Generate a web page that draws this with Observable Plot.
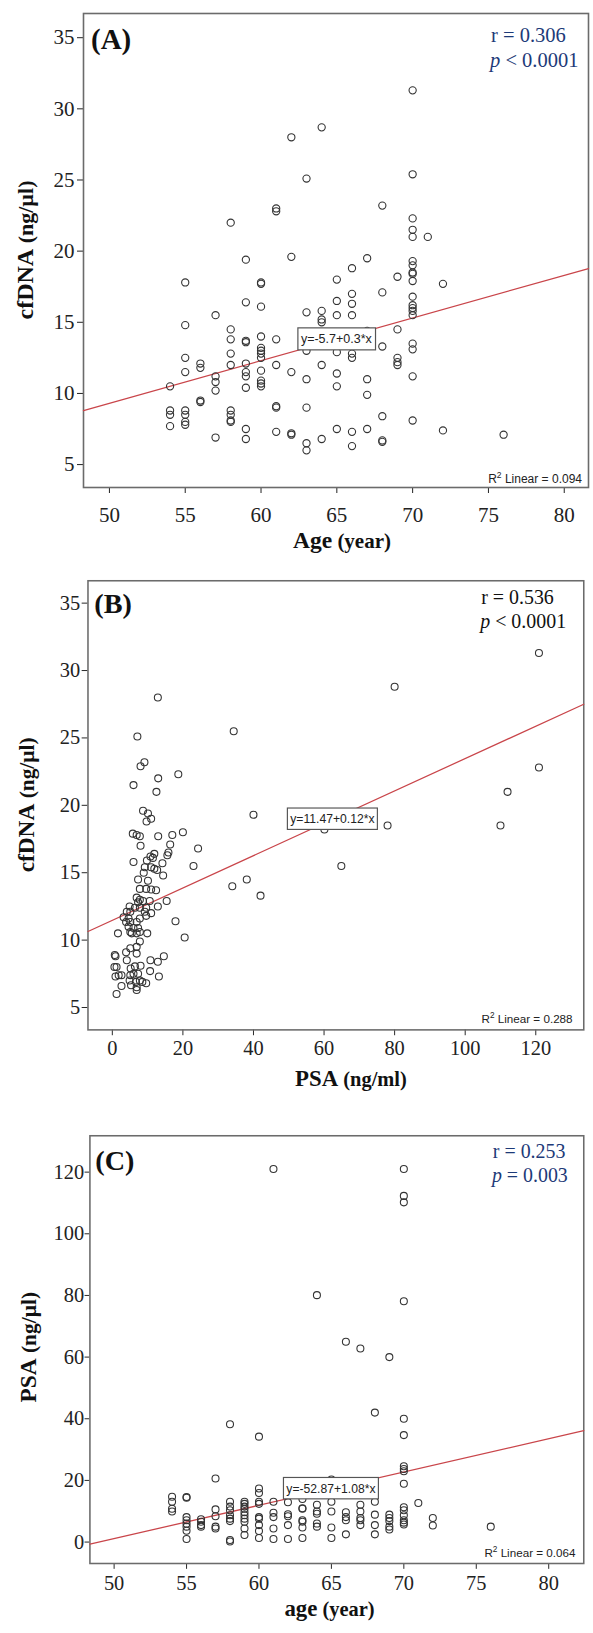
<!DOCTYPE html>
<html><head><meta charset="utf-8">
<script src="https://cdn.jsdelivr.net/npm/d3@7"></script>
<script src="https://cdn.jsdelivr.net/npm/@observablehq/plot@0.6"></script>
<style>
html,body{margin:0;padding:0;background:#fff;overflow:hidden;width:593px;height:1633px;}
#wrap{position:relative;width:593px;height:1633px;overflow:hidden;background:#fff;}
#wrap svg{position:absolute;left:0;display:block;}
</style></head><body><div id="wrap"></div>
<script>
// ---------- DATA ----------
// Panel A: cfDNA (ng/µl) vs Age (year)
const agesA = [54,55,56,57,58,59,60,61,62,63,64,65,66,67,68,69,70,71,72,76];
const cfdnaByAgeA = [
  [10.5,8.8,8.5,7.7],
  [17.8,14.8,12.5,11.5,8.8,8.5,8.0,7.8],
  [12.1,11.8,9.5,9.4],
  [15.5,11.2,10.8,10.2,6.9],
  [22.0,14.5,13.8,12.8,12.0,8.8,8.5,8.1,8.0],
  [19.4,16.4,13.7,13.6,12.1,11.5,11.2,10.4,7.5,6.8],
  [17.8,17.7,16.1,14.0,13.2,13.0,12.8,12.5,11.6,10.9,10.7,10.5],
  [23.0,22.8,13.8,12.0,9.1,9.0,7.3],
  [28.0,19.6,11.5,7.2,7.1],
  [25.1,15.7,13.0,11.0,9.0,6.5,6.0],
  [28.7,15.8,15.2,15.0,12.0,6.8],
  [18.0,16.5,15.5,12.9,11.4,10.5,7.5],
  [18.8,17.0,16.3,15.5,12.8,12.5,7.3,6.3],
  [19.5,14.4,11.0,9.9,7.5],
  [23.2,17.1,13.3,8.4,6.7,6.6],
  [18.2,14.5,12.5,12.2,12.0],
  [31.3,25.4,22.3,21.5,21.0,19.3,19.0,18.5,18.4,17.9,16.8,16.2,16.0,15.8,15.5,13.5,13.1,11.2,8.1],
  [21.0],
  [17.7,7.4],
  [7.1]
];
// Panel B: cfDNA (ng/µl) vs PSA (ng/ml)
const psaB = [12.9,34.4,7.1,8.0,9.1,13.0,18.7,6.0,12.5,8.7,10.1,11.0,9.7,40.0,5.8,6.9,7.8,13.0,17.0,20.0,8.0,16.4,24.3,15.9,15.6,11.9,10.8,11.5,6.0,9.8,
  120.9,80.0,120.9,112.0,60.1,78.0,110.0,64.9,34.0,38.1,42.0,23.0,17.9,20.5,
  14.2,9.2,11.0,11.9,12.7,8.9,14.4,7.3,10.1,7.8,9.6,11.0,12.4,6.9,7.8,8.7,7.3,10.6,15.4,12.9,4.9,6.4,7.8,9.6,4.1,5.1,9.2,11.0,3.2,4.6,
  7.8,9.6,3.9,5.1,6.9,4.6,6.0,7.3,5.1,7.8,1.6,5.5,6.9,9.9,7.8,6.9,5.1,3.9,0.7,0.9,6.9,4.1,10.8,12.9,14.6,0.6,1.2,5.2,6.4,8.0,
  10.7,0.9,1.8,2.6,5.1,6.0,7.3,13.2,4.9,6.7,7.8,8.5,9.6,2.6,5.3,6.9,6.9,1.2];
const cfdnaB = [28.0,25.5,25.1,22.9,23.2,22.0,22.3,21.5,21.0,19.6,19.4,19.0,18.8,19.3,17.9,17.8,17.7,17.7,17.8,18.0,17.0,17.1,16.8,16.5,16.3,16.4,16.2,16.1,15.8,15.9,
  31.3,28.8,22.8,21.0,18.2,18.5,18.5,15.5,14.0,14.5,13.3,15.5,11.4,10.2,
  15.7,15.4,15.4,15.3,15.2,15.0,14.8,14.5,14.4,13.8,13.8,13.75,13.7,13.15,13.0,12.9,12.8,12.9,12.9,12.5,12.5,12.4,12.4,12.4,12.1,12.1,12.1,12.0,11.7,11.6,
  11.6,11.8,11.35,11.35,11.35,11.0,10.9,10.9,10.6,10.6,10.5,10.5,10.5,10.5,9.9,9.5,9.4,9.1,8.9,8.8,9.0,8.5,8.5,8.4,8.8,8.0,8.0,7.9,8.05,8.1,
  7.7,7.3,7.4,7.4,7.4,7.5,7.5,7.3,7.0,6.9,7.0,6.9,6.8,6.6,6.65,6.5,6.3,6.0];
// Panel C: PSA vs age (year)
const agesC = [54,55,56,57,58,59,60,61,62,63,64,65,66,67,68,69,70,71,72,76];
const psaByAgeC = [
  [14.7,13.1,10.8,9.9],
  [14.6,14.4,8.1,7.1,6.0,5.0,3.7,1.0],
  [7.4,6.6,5.5,5.0],
  [20.6,10.6,8.4,5.0,4.4],
  [38.2,13.1,11.5,10.3,8.7,7.6,6.8,0.7,0.2],
  [13.1,12.4,11.5,10.8,9.7,8.7,7.6,6.6,4.4,2.3],
  [34.2,17.4,15.9,13.1,12.4,8.1,7.6,5.5,3.6,1.3],
  [121.0,13.1,9.5,8.1,4.4,1.0],
  [12.9,9.0,8.4,5.5,1.0],
  [14.0,11.0,10.8,7.1,6.6,4.7,1.3],
  [80.1,12.1,9.9,9.2,6.0,5.0],
  [20.3,13.1,9.9,4.7,1.3],
  [65.0,9.7,8.1,7.1,2.5],
  [62.8,12.1,9.9,7.8,7.1,5.5],
  [42.0,13.1,8.9,5.5,2.5],
  [60.0,8.9,7.8,6.8,5.0,4.1],
  [121.0,112.3,110.2,78.1,40.0,34.7,24.6,23.7,23.0,18.9,11.3,10.3,8.7,7.1,6.3,5.7],
  [12.7],
  [7.8,5.4],
  [5.0]
];
// fits and labels
const fitA = {a: -5.7, b: 0.3, eq: "y=-5.7+0.3*x", xm: 65, r2: "0.094", r: "0.306", p: "< 0.0001"};
const fitB = {a: 11.47, b: 0.12, eq: "y=11.47+0.12*x", xm: 62.5, r2: "0.288", r: "0.536", p: "< 0.0001"};
const fitC = {a: -52.87, b: 1.08, eq: "y=-52.87+1.08*x", xm: 65, r2: "0.064", r: "0.253", p: "= 0.003"};
const ticksAge = [50,55,60,65,70,75,80];
const ticksPSAx = [0,20,40,60,80,100,120];
const ticksCf = [5,10,15,20,25,30,35];
const ticksPSAy = [0,20,40,60,80,100,120];

const tableA = agesA.flatMap((a,i)=>cfdnaByAgeA[i].map(v=>({x:a,y:v})));
const tableB = psaB.map((p,i)=>({x:p,y:cfdnaB[i]}));
const tableC = agesC.flatMap((a,i)=>psaByAgeC[i].map(v=>({x:a,y:v})));

const SERIF = "'Liberation Serif','Times New Roman',serif";
const SANS = "'Liberation Sans',Arial,sans-serif";
const NAVY = "#1d3a78";
const wrap = document.getElementById("wrap");

function panel(o){
  const line = o.xDomain.map(x=>({x, y: o.fit.a + o.fit.b*x}));
  const chart = Plot.plot({
    width: o.width, height: o.height,
    marginLeft: o.mL, marginRight: o.mR, marginTop: o.mT, marginBottom: o.mB,
    style: {fontFamily: SERIF, fontSize: "21px", color: "#222", background: "transparent", overflow: "visible"},
    x: {domain: o.xDomain, ticks: o.xTicks, tickSize: 6, tickPadding: o.xPad, label: null},
    y: {domain: o.yDomain, ticks: o.yTicks, tickSize: o.yTick, tickPadding: o.yPad, label: null},
    marks: [
      Plot.frame({stroke: "#6b6b6b", strokeWidth: 1.6}),
      Plot.line(line, {x: "x", y: "y", stroke: "#c9454a", strokeWidth: 1.3}),
      Plot.dot(o.data, {x: "x", y: "y", r: 3.6, stroke: "#333", strokeWidth: 1.1, fill: "none"})
    ]
  });
  chart.style.top = o.top + "px";
  wrap.appendChild(chart);
  const svg = d3.select(chart);
  const sx = chart.scale("x"), sy = chart.scale("y");
  // equation box
  const cx = sx.apply(o.fit.xm), cy = sy.apply(o.fit.a + o.fit.b*o.fit.xm);
  const g = svg.append("g");
  const rect = g.append("rect");
  const t = g.append("text").attr("x", cx).attr("y", cy + 4.5).attr("text-anchor", "middle")
    .attr("font-family", SANS).attr("font-size", 12.5).attr("fill", "#222").text(o.fit.eq);
  const bb = t.node().getBBox();
  rect.attr("x", bb.x - 3).attr("y", cy - 11).attr("width", bb.width + 6).attr("height", 22)
    .attr("fill", "white").attr("stroke", "#555").attr("stroke-width", 1.2);
  // R2 label
  const r2 = svg.append("text").attr("x", o.r2x).attr("y", o.r2y).attr("text-anchor", "end")
    .attr("font-family", SANS).attr("font-size", 12).attr("fill", "#222");
  r2.append("tspan").text("R");
  r2.append("tspan").attr("font-size", 8.5).attr("dy", -5).text("2");
  r2.append("tspan").attr("dy", 5).text(" Linear = " + o.fit.r2);
  // r / p
  const rp = svg.append("g").attr("font-family", SERIF).attr("font-size", 20.5).attr("fill", o.rpColor).attr("text-anchor", "start");
  rp.append("text").attr("x", o.rpx).attr("y", o.ry).text("r = " + o.fit.r);
  const pt = rp.append("text").attr("x", o.rpx - 1).attr("y", o.ry + 25);
  pt.append("tspan").attr("font-style", "italic").text("p");
  pt.append("tspan").text(" " + o.fit.p);
  // panel letter
  svg.append("text").attr("x", o.lx).attr("y", o.ly).attr("text-anchor", "start").attr("font-family", SERIF).attr("font-weight", "bold")
    .attr("font-size", 29).attr("fill", "#111").text(o.letter);
  // x label
  const xl = svg.append("text").attr("x", o.xlx).attr("y", o.xly).attr("text-anchor", "middle")
    .attr("font-family", SERIF).attr("font-weight", "bold").attr("fill", "#111");
  xl.append("tspan").attr("font-size", 23.5).text(o.xlab[0]);
  xl.append("tspan").attr("font-size", 21).text(" " + o.xlab[1]);
  // y label
  const yl = svg.append("text").attr("transform", `translate(${o.ylx},${o.yly}) rotate(-90)`).attr("text-anchor", "middle")
    .attr("font-family", SERIF).attr("font-weight", "bold").attr("fill", "#111");
  yl.append("tspan").attr("font-size", 24).text(o.ylab[0]);
  yl.append("tspan").attr("font-size", 22).text(" " + o.ylab[1]);
}

panel({top: 0, width: 593, height: 555, mL: 83, mR: 5, mT: 13, mB: 68,
  xDomain: [48.29, 81.6], yDomain: [3.39, 36.7], xTicks: ticksAge, yTicks: ticksCf, xPad: 14, yTick: 6, yPad: 3,
  data: tableA, fit: fitA, r2x: 582, r2y: 483, rpx: 491, ry: 42, rpColor: NAVY,
  lx: 91, ly: 49, letter: "(A)", xlx: 342, xly: 548, xlab: ["Age", "(year)"], ylx: 33, yly: 250, ylab: ["cfDNA", "(ng/µl)"]});

panel({top: 555, width: 610, height: 555, mL: 90, mR: 10, mT: 26, mB: 67,
  xDomain: [-6.9, 133.6], yDomain: [3.34, 36.66], xTicks: ticksPSAx, yTicks: ticksCf, xPad: 4.5, yTick: 6, yPad: 2,
  data: tableB, fit: fitB, r2x: 589, r2y: 481.5, rpx: 495, ry: 50, rpColor: "#111",
  lx: 97, ly: 60, letter: "(B)", xlx: 361, xly: 546, xlab: ["PSA", "(ng/ml)"], ylx: 35, yly: 257, ylab: ["cfDNA", "(ng/µl)"]});

panel({top: 1110, width: 610, height: 523, mL: 92, mR: 10, mT: 26, mB: 57,
  xDomain: [48.33, 82.42], yDomain: [-6.95, 131.8], xTicks: ticksAge, yTicks: ticksPSAy, xPad: 6, yTick: 5, yPad: 1,
  data: tableC, fit: fitC, r2x: 592, r2y: 460, rpx: 507, ry: 49, rpColor: NAVY,
  lx: 98, ly: 62, letter: "(C)", xlx: 339, xly: 521, xlab: ["age", "(year)"], ylx: 37, yly: 244, ylab: ["PSA", "(ng/µl)"]});
</script>
</body></html>
